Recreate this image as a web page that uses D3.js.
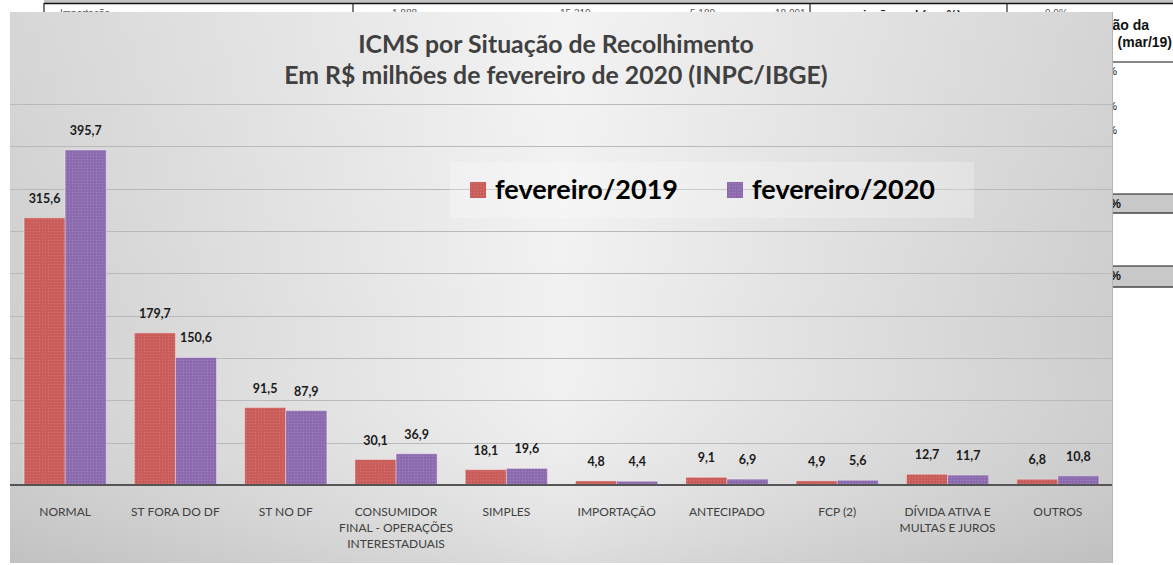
<!DOCTYPE html>
<html>
<head>
<meta charset="utf-8">
<script src="https://cdn.jsdelivr.net/npm/d3@7"></script>
<style>
  body { margin: 0; background: #fff; }
  svg { display: block; }
</style>
</head>
<body>
<script>
var categories = ["NORMAL", "ST FORA DO DF", "ST NO DF", "CONSUMIDOR FINAL - OPERAÇÕES INTERESTADUAIS",
  "SIMPLES", "IMPORTAÇÃO", "ANTECIPADO", "FCP (2)", "DÍVIDA ATIVA E MULTAS E JUROS", "OUTROS"];
var categoryLines = [["NORMAL"], ["ST FORA DO DF"], ["ST NO DF"], ["CONSUMIDOR", "FINAL - OPERAÇÕES", "INTERESTADUAIS"],
  ["SIMPLES"], ["IMPORTAÇÃO"], ["ANTECIPADO"], ["FCP (2)"], ["DÍVIDA ATIVA E", "MULTAS E JUROS"], ["OUTROS"]];
var seriesNames = ["fevereiro/2019", "fevereiro/2020"];
var fev2019 = [315.6, 179.7, 91.5, 30.1, 18.1, 4.8, 9.1, 4.9, 12.7, 6.8];
var fev2020 = [395.7, 150.6, 87.9, 36.9, 19.6, 4.4, 6.9, 5.6, 11.7, 10.8];
var yTicks = [50, 100, 150, 200, 250, 300, 350, 400, 450];
var titleLines = ["ICMS por Situação de Recolhimento", "Em R$ milhões de fevereiro de 2020 (INPC/IBGE)"];

var width = 1173, height = 565;
var colors = ["#cb5e5b", "#8d6db0"];

var svg = d3.select("body").append("svg")
  .attr("width", width)
  .attr("height", height);

var defs = svg.append("defs");

var hGrad = defs.append("linearGradient").attr("id", "bgH");
hGrad.append("stop").attr("offset", "0%").attr("stop-color", "#cfcfcf");
hGrad.append("stop").attr("offset", "50%").attr("stop-color", "#f1f1f1");
hGrad.append("stop").attr("offset", "100%").attr("stop-color", "#cdcdcd");

var vGrad = defs.append("linearGradient").attr("id", "bgV")
  .attr("x1", 0).attr("y1", 0).attr("x2", 0).attr("y2", 1);
vGrad.append("stop").attr("offset", "0%").attr("stop-color", "#fff").attr("stop-opacity", 0.15);
vGrad.append("stop").attr("offset", "60%").attr("stop-color", "#fff").attr("stop-opacity", 0);
vGrad.append("stop").attr("offset", "100%").attr("stop-color", "#888").attr("stop-opacity", 0.2);

colors.forEach(function(c, i) {
  var p = defs.append("pattern").attr("id", "pat" + i)
    .attr("patternUnits", "userSpaceOnUse").attr("width", 3).attr("height", 3);
  p.append("rect").attr("width", 3).attr("height", 3).attr("fill", c);
  p.append("rect").attr("width", 1).attr("height", 1).attr("fill", "#fff").attr("opacity", 0.15);
  p.append("rect").attr("x", 1.5).attr("y", 1.5).attr("width", 1).attr("height", 1)
    .attr("fill", "#000").attr("opacity", 0.06);
});

// table behind the chart
var table = svg.append("g").attr("id", "table");
table.append("rect").attr("x", 44).attr("y", 0).attr("width", 1129).attr("height", 3).attr("fill", "#c4c4c4");
table.append("line").attr("x1", 44).attr("x2", 1173).attr("y1", 3.5).attr("y2", 3.5)
  .attr("stroke", "#111").attr("stroke-width", 1.5);
[44, 353, 810, 1007].forEach(function(x) {
  table.append("line").attr("x1", x).attr("x2", x).attr("y1", 3).attr("y2", 14)
    .attr("stroke", "#222").attr("stroke-width", 1.2);
});
table.selectAll(".num").data([[392, "1.888"], [560, "15.319"], [690, "5.180"], [775, "18.091"], [1045, "9,0%"]])
  .enter().append("text")
  .attr("x", function(d) { return d[0]; }).attr("y", 17)
  .attr("font-family", "Liberation Sans, Arial").attr("font-size", 10).attr("fill", "#555")
  .text(function(d) { return d[1]; });
table.append("text").attr("x", 60).attr("y", 17).attr("font-family", "Liberation Sans, Arial")
  .attr("font-size", 10).attr("fill", "#555").text("Importação");
table.append("text").attr("x", 845).attr("y", 19).attr("font-family", "Liberation Sans, Arial")
  .attr("font-size", 12).attr("font-weight", "bold").attr("fill", "#222").text("variação real (em %)");
table.append("text").attr("x", 1149).attr("y", 30).attr("text-anchor", "end")
  .attr("font-family", "Liberation Sans, Arial").attr("font-size", 14).attr("font-weight", "bold")
  .attr("fill", "#111").text("variação da");
table.append("text").attr("x", 1172).attr("y", 47).attr("text-anchor", "end")
  .attr("font-family", "Liberation Sans, Arial").attr("font-size", 14).attr("font-weight", "bold")
  .attr("fill", "#111").text("(mar/19)");
table.append("line").attr("x1", 1100).attr("x2", 1173).attr("y1", 62).attr("y2", 62)
  .attr("stroke", "#111").attr("stroke-width", 1);
[[194, 213], [266, 287]].forEach(function(r) {
  table.append("rect").attr("x", 1100).attr("y", r[0]).attr("width", 73).attr("height", r[1] - r[0])
    .attr("fill", "#c8c8c8");
  table.append("line").attr("x1", 1100).attr("x2", 1173).attr("y1", r[0]).attr("y2", r[0])
    .attr("stroke", "#111").attr("stroke-width", 1);
  table.append("line").attr("x1", 1100).attr("x2", 1173).attr("y1", r[1]).attr("y2", r[1])
    .attr("stroke", "#444").attr("stroke-width", 1.5);
  table.append("text").attr("x", 1121).attr("y", r[0] + 14).attr("text-anchor", "end")
    .attr("font-family", "Liberation Sans, Arial").attr("font-size", 12).attr("font-weight", "bold")
    .attr("fill", "#111").text("%");
});
[75, 110, 134].forEach(function(y) {
  table.append("text").attr("x", 1117).attr("y", y).attr("text-anchor", "end")
    .attr("font-family", "Liberation Sans, Arial").attr("font-size", 11).attr("fill", "#111").text("%");
});

// chart panel
var panel = { x: 10, y: 12, w: 1103, h: 551 };
svg.append("rect").attr("x", panel.x).attr("y", panel.y).attr("width", panel.w).attr("height", panel.h)
  .attr("fill", "url(#bgH)");
svg.append("rect").attr("x", panel.x).attr("y", panel.y).attr("width", panel.w).attr("height", panel.h)
  .attr("fill", "url(#bgV)");
svg.append("line").attr("x1", panel.x + panel.w - 0.5).attr("x2", panel.x + panel.w - 0.5)
  .attr("y1", panel.y).attr("y2", panel.y + panel.h).attr("stroke", "#b5b5b5");

var x0 = d3.scaleBand().domain(categories).range([10, 1113])
  .paddingInner(0.255).paddingOuter(0.1275);
var x1 = d3.scaleBand().domain(seriesNames).range([0, x0.bandwidth()]);
var y = d3.scaleLinear().domain([0, 450]).range([485, 104]);

var fmt = function(v) { return d3.format(".1f")(v).replace(".", ","); };

// gridlines
svg.append("g").selectAll("line").data(yTicks).enter().append("line")
  .attr("x1", 10).attr("x2", 1112)
  .attr("y1", function(d) { return Math.round(y(d)) + 0.5; })
  .attr("y2", function(d) { return Math.round(y(d)) + 0.5; })
  .attr("stroke", "#b9b9b9").attr("stroke-width", 1);

// legend
var legend = svg.append("g").attr("id", "legend");
legend.append("rect").attr("x", 450).attr("y", 162).attr("width", 524).attr("height", 56)
  .attr("fill", "#fff").attr("opacity", 0.25);
var legendX = [470, 727];
seriesNames.forEach(function(name, i) {
  legend.append("rect").attr("x", legendX[i]).attr("y", 182).attr("width", 16).attr("height", 16)
    .attr("fill", "url(#pat" + i + ")");
  legend.append("text").attr("x", legendX[i] + 25).attr("y", 199)
    .attr("font-family", "Lato, sans-serif").attr("font-weight", "bold").attr("font-size", 27)
    .attr("fill", "#000").text(name);
});

// bars
var series = [fev2019, fev2020];
var rows = [];
categories.forEach(function(c, i) {
  seriesNames.forEach(function(s, j) {
    rows.push({ cat: c, series: s, idx: j, value: series[j][i] });
  });
});

var bars = svg.append("g").attr("id", "bars");
bars.selectAll("rect").data(rows).enter().append("rect")
  .attr("x", function(d) { return x0(d.cat) + x1(d.series); })
  .attr("width", x1.bandwidth())
  .attr("y", function(d) { return y(d.value); })
  .attr("height", function(d) { return y(0) - y(d.value); })
  .attr("fill", function(d) { return "url(#pat" + d.idx + ")"; })
  .attr("stroke", "#fff").attr("stroke-opacity", 0.35).attr("stroke-width", 1);

bars.selectAll("text").data(rows).enter().append("text")
  .attr("x", function(d) { return x0(d.cat) + x1(d.series) + x1.bandwidth() / 2; })
  .attr("y", function(d) { return y(d.value) - 15; })
  .attr("text-anchor", "middle")
  .attr("font-family", "Lato, sans-serif").attr("font-weight", "bold").attr("font-size", 12.5)
  .attr("fill", "#1a1a1a")
  .text(function(d) { return fmt(d.value); });

// baseline
svg.append("line").attr("x1", 10).attr("x2", 1112).attr("y1", y(0)).attr("y2", y(0))
  .attr("stroke", "#555").attr("stroke-width", 2);

// category labels
var xAxis = svg.append("g").attr("id", "x-axis");
xAxis.selectAll("text").data(categories).enter().append("text")
  .attr("x", function(d) { return x0(d) + x0.bandwidth() / 2; })
  .attr("y", 516)
  .attr("text-anchor", "middle")
  .attr("font-family", "Lato, sans-serif").attr("font-size", 12).attr("fill", "#404040")
  .each(function(d, i) {
    var t = d3.select(this);
    categoryLines[i].forEach(function(line, k) {
      t.append("tspan").attr("x", x0(d) + x0.bandwidth() / 2).attr("dy", k === 0 ? 0 : 16).text(line);
    });
  });

// title
svg.append("g").selectAll("text").data(titleLines).enter().append("text")
  .attr("x", 556).attr("y", function(d, i) { return 53 + i * 31; })
  .attr("text-anchor", "middle")
  .attr("font-family", "Lato, sans-serif").attr("font-weight", "bold").attr("font-size", 24.8)
  .attr("fill", "#404040")
  .text(function(d) { return d; });
</script>
</body>
</html>
